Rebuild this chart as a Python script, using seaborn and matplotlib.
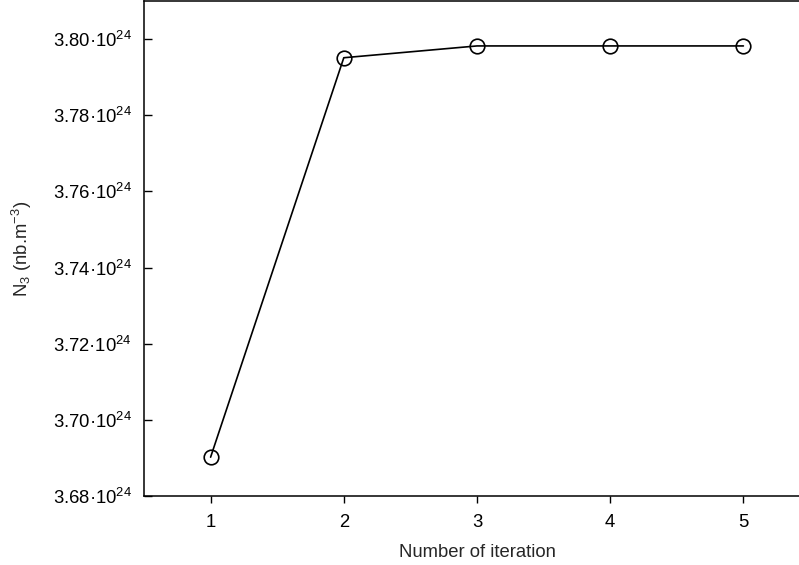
import matplotlib
matplotlib.use("Agg")
import matplotlib.pyplot as plt
import matplotlib.ticker as mticker
import seaborn as sns
import pandas as pd

iterations = [1, 2, 3, 4, 5]
n3_values = [3.6902e24, 3.7951e24, 3.7982e24, 3.7982e24, 3.7982e24]
y_ticks = [3.68e24, 3.70e24, 3.72e24, 3.74e24, 3.76e24, 3.78e24, 3.80e24]
x_ticks = [1, 2, 3, 4, 5]
x_label = "Number of iteration"
y_label = r"N$_3$ (nb.m$^{-3}$)"

sns.set_style("ticks")
plt.rcParams['font.family'] = ['Liberation Sans', 'DejaVu Sans']
plt.rcParams['mathtext.fontset'] = 'custom'
plt.rcParams['mathtext.rm'] = 'Liberation Sans'
plt.rcParams['mathtext.it'] = 'Liberation Sans:italic'
plt.rcParams['mathtext.bf'] = 'Liberation Sans:bold'

FS = 13.3

df = pd.DataFrame({"iter": iterations, "n3": n3_values})

fig = plt.figure(figsize=(7.99, 5.65), dpi=100)
ax = fig.add_axes([144 / 799, (565 - 496) / 565, (810 - 144) / 799, (496 - 1) / 565])

sns.lineplot(data=df, x="iter", y="n3", ax=ax, color="black", linewidth=1.2,
             marker="o", markersize=10.5, markerfacecolor="none",
             markeredgecolor="black", markeredgewidth=1.2)

ax.set_xlim(0.5, 5.5)
ax.set_ylim(3.68e24, 3.81e24)
ax.set_xticks(x_ticks)
ax.set_yticks(y_ticks)

def fmt(v, pos):
    mant = v / 1e24
    return f"{mant:.2f}·10$^{{24}}$"

ax.yaxis.set_major_formatter(mticker.FuncFormatter(fmt))
ax.xaxis.set_major_formatter(mticker.FuncFormatter(lambda v, p: f"{int(v)}"))

ax.tick_params(axis='y', direction='in', length=5.8, width=1.0, pad=8.6,
               labelsize=FS, colors='black')
ax.tick_params(axis='x', direction='out', length=5.0, width=1.0, pad=8.0,
               labelsize=FS, colors='black')

for side in ['left', 'bottom', 'top']:
    ax.spines[side].set_visible(True)
    ax.spines[side].set_linewidth(1.1)
    ax.spines[side].set_color('black')
ax.spines['right'].set_visible(False)

ax.set_xlabel(x_label, fontsize=FS, labelpad=9)
ax.set_ylabel(y_label, fontsize=FS)
ax.yaxis.set_label_coords((34 - 144) / 666, 0.5)

fig.savefig("out.png", dpi=100)
